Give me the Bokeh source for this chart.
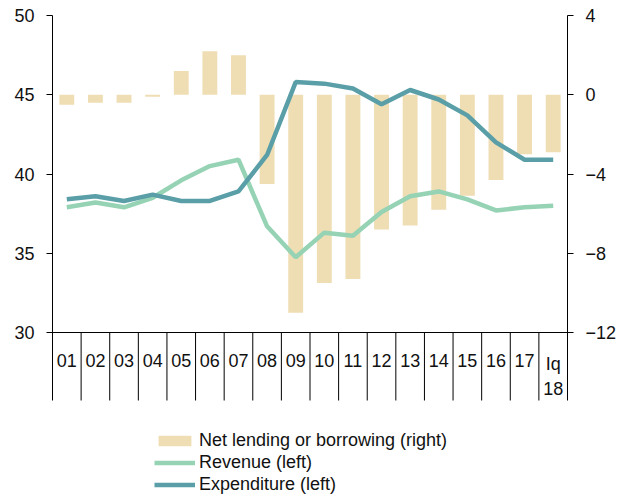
import numpy as np
from bokeh.plotting import figure
from bokeh.models import (Range1d, LinearAxis, FixedTicker, Legend,
                          LegendItem, ColumnDataSource, Span)
from bokeh.core.properties import value
from bokeh.embed import file_html
from bokeh.resources import INLINE

categories = ["01", "02", "03", "04", "05", "06", "07", "08", "09", "10",
              "11", "12", "13", "14", "15", "16", "17", "Iq\n18"]
net_lending = [-0.5, -0.4, -0.4, -0.1, 1.2, 2.2, 2.0, -4.5, -11.0, -9.5,
               -9.3, -6.8, -6.6, -5.8, -5.1, -4.3, -3.0, -2.9]
revenue = [37.9, 38.2, 37.9, 38.5, 39.6, 40.5, 40.9, 36.7, 34.75, 36.3,
           36.1, 37.6, 38.6, 38.9, 38.4, 37.7, 37.9, 38.0]
expenditure = [38.4, 38.6, 38.3, 38.7, 38.3, 38.3, 38.9, 41.2, 45.8, 45.7,
               45.4, 44.4, 45.3, 44.7, 43.7, 42.0, 40.9, 40.9]
left_ticks = [30, 35, 40, 45, 50]
right_ticks = [-12, -8, -4, 0, 4]

FONT = "Liberation Sans"
BAR_C = "#EFDDB3"
REV_C = "#96D3B5"
EXP_C = "#5A9FA8"
TXT_C = "#111111"

# layout in pixels
FIG_W, FIG_H = 619, 496
TOP, LEFT, RIGHT = 15, 52, 46
PLOT_PX = 317          # pixel height of the value area (30..50)
SEP_PX = 68            # category separator length below the value area
LABEL_PX = 21          # top of category labels below the value area

n = len(categories)
idx = list(range(n))
l0, l1 = left_ticks[0], left_ticks[-1]
r0, r1 = right_ticks[0], right_ticks[-1]
sl = PLOT_PX / (l1 - l0)
sr = PLOT_PX / (r1 - r0)
frame_h = FIG_H - TOP
y_start = l1 - frame_h / sl
yr_start = r1 - frame_h / sr
sep_bottom = l0 - SEP_PX / sl
label_y = l0 - LABEL_PX / sl

src = ColumnDataSource(dict(x=idx, cat=categories, net=net_lending,
                            rev=revenue, exp=expenditure))

p = figure(x_range=Range1d(-0.5, n - 0.5),
           y_range=Range1d(y_start, l1),
           width=FIG_W, height=FIG_H,
           output_backend="svg", toolbar_location=None,
           x_axis_location=None,
           min_border_left=LEFT, min_border_right=RIGHT, min_border_top=TOP,
           min_border_bottom=0)
p.extra_y_ranges = {"right": Range1d(yr_start, r1)}
p.outline_line_color = None
p.grid.visible = False
p.background_fill_color = "white"
p.border_fill_color = "white"

bars = p.vbar(x="x", top="net", bottom=0, width=0.52, source=src,
              y_range_name="right", fill_color=BAR_C, line_color=None)
rev_l = p.line(x="x", y="rev", source=src, line_color=REV_C, line_width=4.5)
exp_l = p.line(x="x", y="exp", source=src, line_color=EXP_C, line_width=4.5)

# category axis: baseline, separators and labels
p.add_layout(Span(location=l0, dimension="width", line_color="black", line_width=1))
p.segment(x0=[i + 0.5 for i in range(n - 1)], y0=[sep_bottom] * (n - 1),
          x1=[i + 0.5 for i in range(n - 1)], y1=[l0] * (n - 1),
          line_color="black", line_width=1)
p.text(x="x", y=label_y, text="cat", source=src, text_align="center",
       text_baseline="top", text_font=value(FONT), text_font_size="18px",
       text_color=TXT_C, text_line_height=1.25)

def style_y(ax, standoff):
    ax.axis_line_color = "black"
    ax.axis_line_width = 1
    ax.major_tick_line_color = "black"
    ax.major_tick_out = 6
    ax.major_tick_in = 0
    ax.minor_tick_line_color = None
    ax.major_label_text_font = FONT
    ax.major_label_text_font_size = "18px"
    ax.major_label_text_color = TXT_C
    ax.major_label_standoff = standoff

yl = p.yaxis[0]
yl.ticker = FixedTicker(ticks=left_ticks)
yl.bounds = (sep_bottom, l1)
style_y(yl, 12)

yr = LinearAxis(y_range_name="right", ticker=FixedTicker(ticks=right_ticks),
                bounds=(r0 - SEP_PX / sr, r1))
style_y(yr, 12)
p.add_layout(yr, "right")

legend = Legend(items=[
    LegendItem(label="Net lending or borrowing (right)", renderers=[bars]),
    LegendItem(label="Revenue (left)", renderers=[rev_l]),
    LegendItem(label="Expenditure (left)", renderers=[exp_l]),
], location=(102, 1), orientation="vertical")
legend.label_text_font = FONT
legend.label_text_font_size = "18px"
legend.label_text_color = TXT_C
legend.glyph_width = 41
legend.glyph_height = 13
legend.label_standoff = 4
legend.label_height = 22
legend.spacing = 0
legend.padding = 0
legend.margin = 0
legend.border_line_color = None
legend.background_fill_alpha = 0
p.add_layout(legend, "center")

open("out.html", "w").write(file_html(p, INLINE))
